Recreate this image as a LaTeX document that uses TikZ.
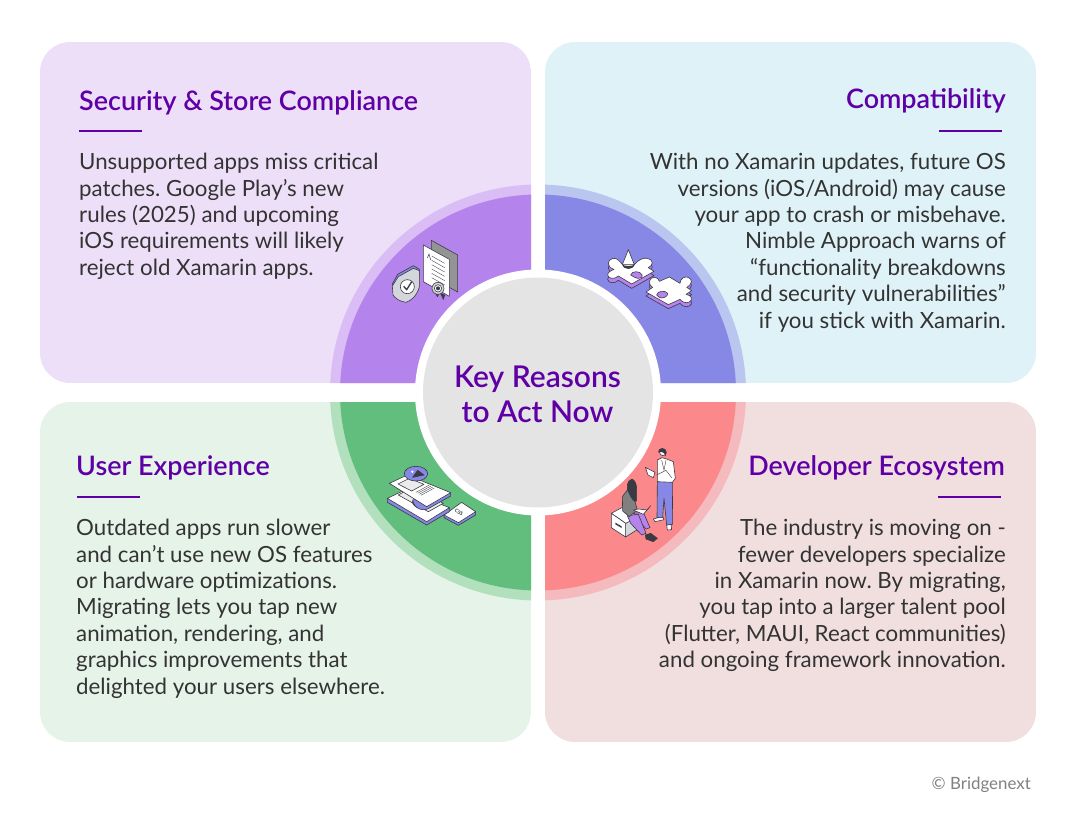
\documentclass[tikz,border=0pt]{standalone}
\usepackage{fontspec}
\setmainfont{Lato}
\newfontfamily\ttlfont{Lato Semibold}
\frenchspacing
\usetikzlibrary{calc}
\definecolor{ttl}{HTML}{5F00A6}
\definecolor{txt}{HTML}{333333}
\definecolor{hub}{HTML}{E4E4E4}
\definecolor{pa}{HTML}{EEDFF8}
\definecolor{pb}{HTML}{DBBDF5}
\definecolor{pc}{HTML}{B583EC}
\definecolor{ba}{HTML}{DFF2F7}
\definecolor{bb}{HTML}{BAC5F0}
\definecolor{bc}{HTML}{8787E5}
\definecolor{ga}{HTML}{E6F3E9}
\definecolor{gb}{HTML}{B2E0BD}
\definecolor{gc}{HTML}{61BE7C}
\definecolor{ra}{HTML}{F1DFE0}
\definecolor{rb}{HTML}{F5BABD}
\definecolor{rc}{HTML}{FB888B}
\definecolor{ink}{HTML}{3A3A44}
\definecolor{steel}{HTML}{D3D7DB}
\tikzset{
  ttlL/.style={anchor=base west,inner sep=0pt,text=ttl,font=\fontsize{26.9}{30}\ttlfont},
  ttlR/.style={ttlL,anchor=base east},
  bodyL/.style={anchor=north west,inner sep=0pt,text=txt,align=left,font=\fontsize{22.3}{26.4}\selectfont},
  bodyR/.style={bodyL,anchor=north east,align=right},
  rule/.style={draw=ttl,line width=1.8pt},
  ico/.style={draw=ink,line width=0.6pt,line join=round},
}
\begin{document}
\begin{tikzpicture}[x=1pt,y=-1pt]
\useasboundingbox (0,0) rectangle (1080,819);
\coordinate (ctr) at (538,392.5);

% Cards with their quarter rings
\foreach \xa/\ya/\xb/\yb/\ca/\cb/\cc in {
  40/42/531/383/pa/pb/pc, 545/42/1036/383/ba/bb/bc,
  40/402/531/742/ga/gb/gc, 545/402/1036/742/ra/rb/rc}{
  \begin{scope}
    \clip[rounded corners=30pt] (\xa,\ya) rectangle (\xb,\yb);
    \fill[\ca] (\xa,\ya) rectangle (\xb,\yb);
    \fill[\cb] (ctr) circle[radius=208];
    \fill[\cc] (ctr) circle[radius=198];
  \end{scope}
}

% Hub
\fill[white] (ctr) circle[radius=123];
\fill[hub] (ctr) circle[radius=115];
\node[inner sep=0pt,text=ttl,align=center,font=\fontsize{30}{35}\ttlfont] (hubtxt) at (537.5,394) {Key Reasons\\to Act Now};

% Security & Store Compliance
\node[ttlL] (sectitle) at (79,110) {Security \& Store Compliance};
\draw[rule] (79,131) -- (142,131);
\node[bodyL] (secbody) at (79,153) {Unsupported apps miss critical\\patches. Google Play’s new\\rules (2025) and upcoming\\iOS requirements will likely\\reject old Xamarin apps.};

% Compatibility
\node[ttlR] (comtitle) at (1006,108) {Compatibility};
\draw[rule] (939,131) -- (1002,131);
\node[bodyR] (combody) at (1006,153) {With no Xamarin updates, future OS\\versions (iOS/Android) may cause\\your app to crash or misbehave.\\Nimble Approach warns of\\“functionality breakdowns\\and security vulnerabilities”\\if you stick with Xamarin.};

% User Experience
\node[ttlL] (usrtitle) at (76,475) {User Experience};
\draw[rule] (77,497) -- (140,497);
\node[bodyL] (usrbody) at (76,519) {Outdated apps run slower\\and can’t use new OS features\\or hardware optimizations.\\Migrating lets you tap new\\animation, rendering, and\\graphics improvements that\\delighted your users elsewhere.};

% Developer Ecosystem
\node[ttlR] (devtitle) at (1005,475) {Developer Ecosystem};
\draw[rule] (938,497) -- (1001,497);
\node[bodyR] (devbody) at (1006,519) {The industry is moving on -\\fewer developers specialize\\in Xamarin now. By migrating,\\you tap into a larger talent pool\\(Flutter, MAUI, React communities)\\and ongoing framework innovation.};

\node[anchor=base east,inner sep=0pt,text=black!50,font=\fontsize{16.9}{18}\selectfont] (copy) at (1031,789) {© Bridgenext};

% Shield and papers
\begin{scope}[shift={(330,180)},scale=1/3]
  \draw[ico,fill=bc] (187,312) -- (203,283) -- (250,257) -- (268,268) -- (268,285) -- (195,320) -- cycle;
  \draw[ico,fill=steel] (187,318) -- (205,290) -- (250,265) -- (268,272) -- (268,320) .. controls (262,345) and (245,362) .. (228,367) .. controls (210,365) and (195,355) .. (189,345) -- cycle;
  \draw[ico,fill=white] (232,320) circle[radius=21];
  \draw[ink,line width=1.3pt] (221,319) -- (230,329) -- (245,305);
  \draw[ico,fill=black!42] (304,181) -- (383,225) -- (383,336) -- (304,292) -- cycle;
  \draw[ico,fill=white] (280,195) -- (358,238) -- (358,349) -- (280,305) -- cycle;
  \foreach \i in {0,1,2,3,4,5}
    \draw[ink,line width=0.35pt] (305,{228+\i*13}) -- (344,{250+\i*13});
  \draw[ink,line width=0.5pt] (292,234) -- (297,222) -- (302,240);
  \draw[ico,fill=ink] (316,338) -- (322,350) -- (326,342) -- cycle;
  \draw[ico,fill=ink] (332,340) -- (340,358) -- (344,345) -- cycle;
  \draw[ico,fill=steel] (324,325) circle[radius=18];
  \draw[ico,fill=white] (324,325) circle[radius=11];
  \fill[ink] (324,325) circle[radius=6];
\end{scope}

% Puzzle pieces
\begin{scope}[shift={(540,180)},scale=1/3]
  \def\pieceA{(222,268) .. controls (200,262) and (200,240) .. (218,235) .. controls (232,233) and (240,245) .. (246,252) -- (285,252) .. controls (295,240) and (310,232) .. (322,235) .. controls (340,238) and (342,255) .. (325,263) -- (342,274) -- (275,312) -- (235,288) .. controls (225,298) and (205,298) .. (203,285) .. controls (203,275) and (215,272) .. (222,268) -- cycle}
  \def\pieceB{(318,336) -- (338,322) .. controls (320,310) and (330,292) .. (342,292) .. controls (352,292) and (358,300) .. (358,304) -- (388,291) -- (420,310) .. controls (420,295) and (435,288) .. (445,292) .. controls (458,298) and (458,312) .. (440,322) -- (455,332) -- (438,343) .. controls (455,345) and (460,360) .. (448,366) .. controls (438,372) and (425,365) .. (420,358) -- (385,374) -- cycle}
  \draw[ico,fill=pc,yshift=-13pt] \pieceA;
  \draw[ico,fill=white] \pieceA;
  \draw[ico,fill=pc] (272,285) .. controls (275,272) and (300,272) .. (306,284) .. controls (312,295) and (292,298) .. (284,292) -- cycle;
  \draw[ico,fill=pc,yshift=-12pt] \pieceB;
  \draw[ico,fill=white] \pieceB;
  \draw[ico,fill=pc] (350,345) .. controls (352,332) and (376,330) .. (383,340) .. controls (385,350) and (365,358) .. (358,352) -- cycle;
  % cone
  \draw[ico,fill=white] (265,209) -- (247,254) -- (283,254) -- cycle;
  \fill[ink] (246,252) .. controls (250,272) and (280,272) .. (285,252) .. controls (280,260) and (250,260) .. (246,252) -- cycle;
\end{scope}

% Stacked sheets
\begin{scope}[shift={(330,395)},scale=1/3]
  \draw[ico,fill=bc] (342,360) -- (342,368) -- (385,391) -- (437,360) -- (437,350) -- cycle;
  \draw[ico,fill=white] (342,360) -- (395,322) -- (437,350) -- (385,383) -- cycle;
  \node[rotate=-32,inner sep=0pt,text=ink,font=\fontsize{5}{5}\selectfont\bfseries] (csslbl) at (387,352) {CSS};
  \draw[ico,fill=bc] (172,310) -- (172,322) -- (290,390) -- (358,350) -- (358,338) -- cycle;
  \draw[ico,fill=white] (172,310) -- (225,285) -- (358,338) -- (290,380) -- cycle;
  \draw[ico,fill=black!8] (205,300) -- (250,275) -- (340,325) -- (295,350) -- cycle;
  \draw[ico,fill=ink] (247,320) .. controls (250,342) and (285,345) .. (300,335) -- cycle;
  \draw[ico,fill=bc] (248,315) .. controls (252,345) and (285,350) .. (300,338) -- (362,303) -- (362,293) -- cycle;
  \draw[ico,fill=white] (178,265) -- (232,240) -- (362,293) -- (290,335) -- cycle;
  \draw[ico,fill=black!8] (204,267) -- (238,250) -- (282,268) -- (245,288) -- cycle;
  \foreach \i in {0,1,2,3}
    \draw[ink,line width=0.35pt] ({258+\i*5},{292+\i*3}) -- ({298+\i*5},{270+\i*3});
  \draw[ico,fill=bc] (258,236) ellipse[x radius=35,y radius=22];
  \draw[ico,fill=ink] (248,247) -- (263,226) -- (282,240) -- cycle;
  \fill[white] (247,230) circle[radius=4];
\end{scope}

% Two people
\begin{scope}[shift={(540,395)},scale=1/3]
  % box
  \draw[ico,fill=steel] (257,426) -- (298,400) -- (298,362) -- (257,385) -- cycle;
  \draw[ico,fill=white] (214,355) -- (245,338) -- (298,364) -- (257,385) -- cycle;
  \draw[ico,fill=white] (214,355) -- (257,385) -- (257,426) -- (214,398) -- cycle;
  \fill[ink] (226,383) -- (245,394) -- (245,399) -- (226,388) -- cycle;
  % woman
  \draw[ico,fill=pc] (280,355) -- (310,352) -- (330,398) -- (318,402) -- (292,372) -- cycle;
  \draw[ico,fill=pc] (262,362) -- (295,358) -- (318,415) -- (305,420) -- (272,385) -- cycle;
  \draw[ico,fill=ink] (316,420) -- (332,415) -- (352,430) -- (340,440) -- (318,432) -- cycle;
  \draw[ico,fill=black!50] (247,305) -- (262,285) -- (280,300) -- (292,345) -- (268,365) -- (248,348) -- cycle;
  \draw[ico,fill=ink] (276,252) .. controls (258,258) and (260,280) .. (266,292) .. controls (272,305) and (282,325) .. (290,318) .. controls (288,295) and (296,262) .. (276,252) -- cycle;
  \draw[ico,fill=white] (280,345) -- (310,358) -- (332,332) -- (322,345) -- (296,342) -- cycle;
  % man
  \draw[ico,fill=white] (340,372) -- (368,364) -- (372,374) -- (345,380) -- cycle;
  \draw[ico,fill=white] (380,390) -- (393,388) -- (395,404) -- (382,405) -- cycle;
  \draw[ico,fill=bc] (352,260) -- (397,260) -- (398,388) -- (380,390) -- (372,310) -- (368,368) -- (351,368) -- cycle;
  \draw[ico,fill=white] (352,195) -- (366,188) -- (380,192) -- (400,200) -- (406,250) -- (397,262) -- (352,260) -- cycle;
  \draw[ink,line width=0.4pt] (365,195) -- (372,225) -- (378,195);
  \draw[ink,line width=0.4pt] (350,240) -- (378,226) -- (395,248);
  \draw[ico,fill=white] (316,217) -- (345,232) -- (340,248) -- (324,240) -- cycle;
  \draw[ico,fill=white] (358,168) .. controls (358,184) and (376,188) .. (378,172) -- cycle;
  \fill[ink] (354,172) .. controls (354,155) and (380,155) .. (380,172) -- (376,184) .. controls (374,172) and (368,170) .. (358,172) -- cycle;
\end{scope}
\end{tikzpicture}
\end{document}
